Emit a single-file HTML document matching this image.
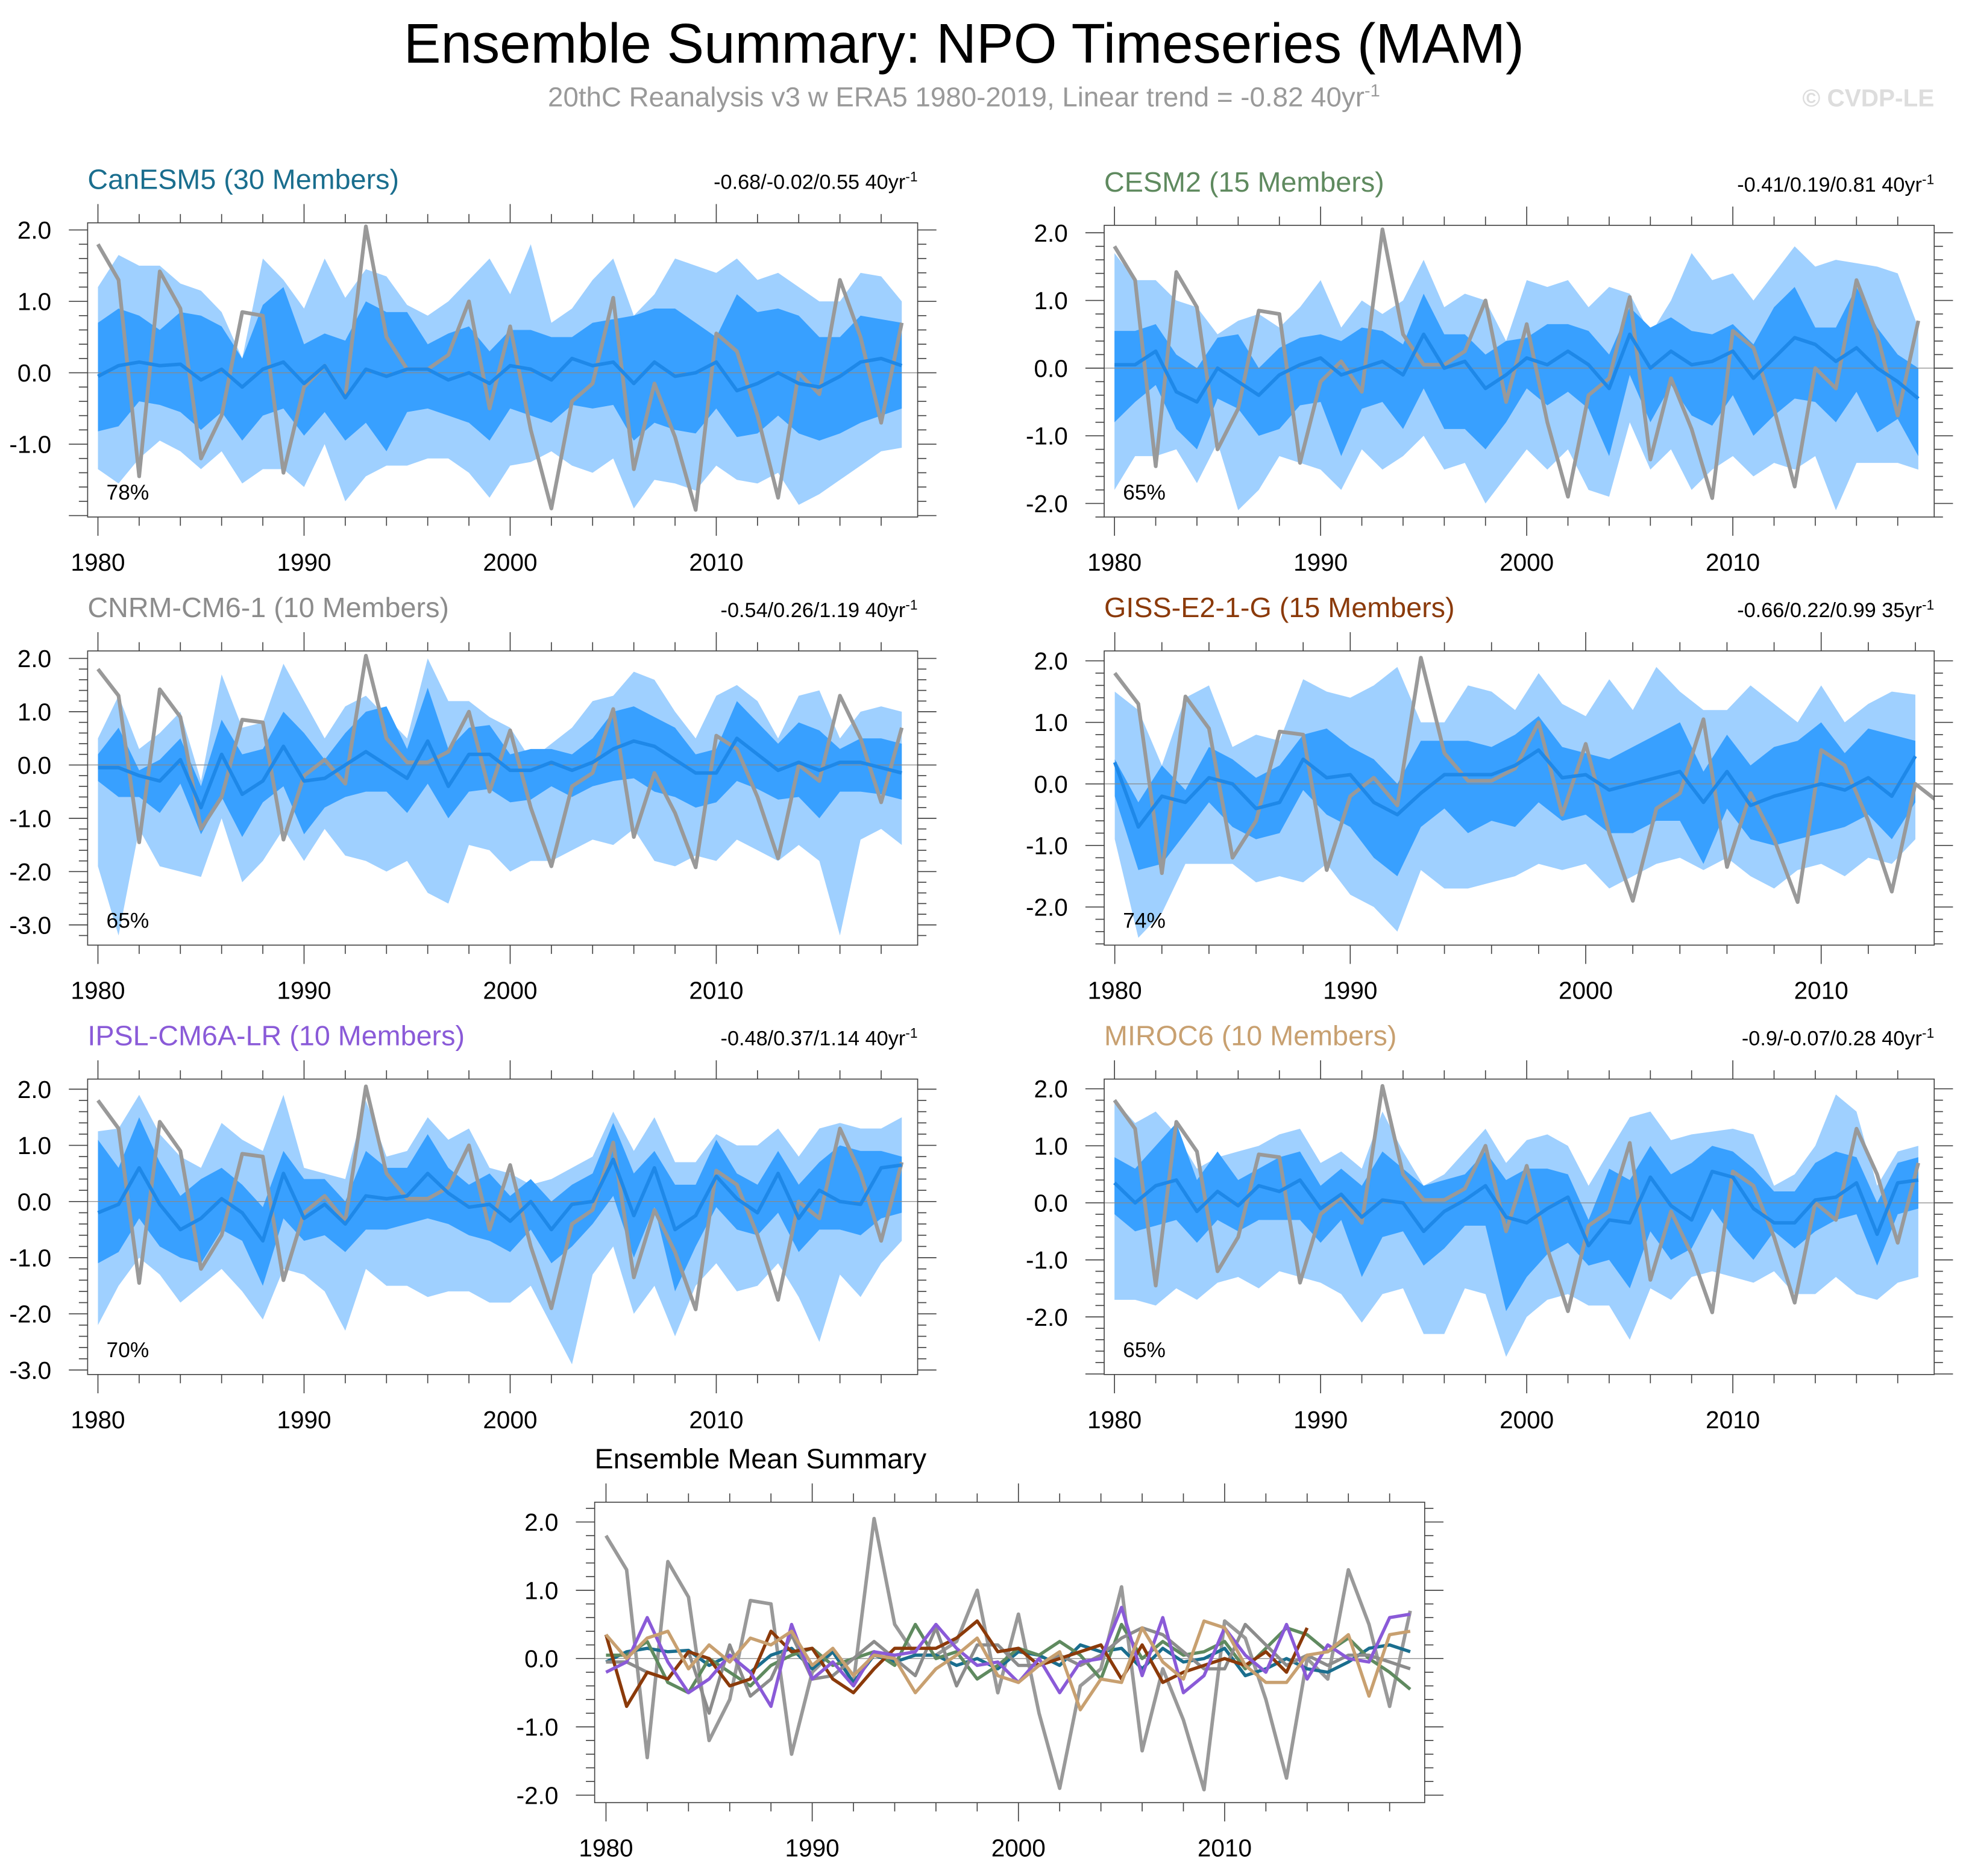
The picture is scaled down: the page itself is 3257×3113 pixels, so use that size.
<!DOCTYPE html>
<html><head><meta charset="utf-8"><style>
html,body{margin:0;padding:0;background:#fff;}
svg{display:block;font-family:"Liberation Sans",Helvetica,sans-serif;}
</style></head><body>
<svg id="fig" width="3257" height="3113" viewBox="0 0 1568 1498.6" preserveAspectRatio="none" xmlns="http://www.w3.org/2000/svg">
<text x="770" y="50" font-size="44.5" text-anchor="middle" fill="#000">Ensemble Summary: NPO Timeseries (MAM)</text>
<text x="770" y="85" font-size="22" text-anchor="middle" fill="#999">20thC Reanalysis v3 w ERA5 1980-2019, Linear trend = -0.82 40yr<tspan dy="-8" font-size="14">-1</tspan></text>
<text x="1545" y="85" font-size="19.5" font-weight="bold" text-anchor="end" fill="#ddd">© CVDP-LE</text>
<g id="panels"></g>
</svg>
<script>
const years = [];
for (let y = 1980; y <= 2019; y++) years.push(y);
const obs = [1.8,1.3,-1.45,1.42,0.9,-1.2,-0.6,0.85,0.8,-1.4,-0.2,0.1,-0.35,2.05,0.5,0.05,0.05,0.25,1.0,-0.5,0.65,-0.8,-1.9,-0.4,-0.15,1.05,-1.35,-0.15,-0.9,-1.92,0.55,0.3,-0.6,-1.75,0.0,-0.3,1.3,0.5,-0.7,0.7];

const canMean=[-0.05,0.1,0.15,0.1,0.12,-0.1,0.05,-0.2,0.05,0.15,-0.15,0.1,-0.35,0.05,-0.05,0.05,0.05,-0.1,0.0,-0.15,0.1,0.05,-0.1,0.2,0.1,0.15,-0.15,0.15,-0.05,0.0,0.15,-0.25,-0.15,0.0,-0.15,-0.2,-0.05,0.15,0.2,0.1];
const canMax=[1.2,1.65,1.5,1.5,1.25,1.15,0.85,0.2,1.6,1.3,0.9,1.6,1.05,1.45,1.35,0.95,0.8,1.0,1.3,1.6,1.1,1.8,0.7,0.9,1.3,1.6,0.8,1.1,1.6,1.5,1.4,1.6,1.3,1.4,1.2,1.0,1.0,1.4,1.35,1.0];
const canHi=[0.7,0.9,0.8,0.6,0.85,0.8,0.65,0.2,0.95,1.2,0.4,0.55,0.45,1.0,0.85,0.85,0.4,0.55,0.65,0.3,0.6,0.6,0.5,0.5,0.7,0.75,0.8,0.9,0.9,0.7,0.5,1.1,0.85,0.9,0.8,0.5,0.5,0.8,0.75,0.7];
const canLo=[-0.82,-0.75,-0.4,-0.45,-0.55,-0.8,-0.55,-0.95,-0.6,-0.5,-0.88,-0.55,-0.95,-0.7,-1.1,-0.55,-0.5,-0.6,-0.7,-0.95,-0.5,-0.6,-0.7,-0.45,-0.5,-0.45,-0.95,-0.7,-0.8,-0.85,-0.5,-0.9,-0.85,-0.6,-0.85,-0.95,-0.85,-0.7,-0.6,-0.5];
const canMin=[-1.35,-1.55,-1.2,-0.95,-1.1,-1.35,-1.1,-1.55,-1.35,-1.35,-1.6,-1.0,-1.8,-1.45,-1.3,-1.3,-1.2,-1.2,-1.4,-1.75,-1.3,-1.25,-1.1,-1.3,-1.4,-1.2,-1.9,-1.5,-1.55,-1.65,-1.3,-1.5,-1.55,-1.4,-1.85,-1.7,-1.5,-1.3,-1.1,-1.05];

const cesMean=[0.05,0.05,0.25,-0.35,-0.5,0.0,-0.2,-0.4,-0.1,0.05,0.15,-0.1,0.0,0.1,-0.1,0.5,0.0,0.1,-0.3,-0.1,0.15,0.05,0.25,0.05,-0.3,0.5,0.0,0.25,0.05,0.1,0.25,-0.15,0.15,0.45,0.35,0.1,0.3,0.0,-0.2,-0.45];
const cesMax=[1.7,1.3,1.3,1.0,0.9,0.5,0.7,0.8,0.6,0.9,1.3,0.6,1.0,0.8,1.0,1.6,0.9,1.1,1.0,0.4,1.3,1.2,1.3,0.9,1.2,1.1,0.5,1.0,1.7,1.3,1.4,1.0,1.4,1.8,1.5,1.6,1.55,1.5,1.4,0.6];
const cesHi=[0.55,0.55,0.65,0.2,0.0,0.45,0.5,0.0,0.3,0.45,0.5,0.4,0.6,0.55,0.35,1.1,0.5,0.5,0.2,0.4,0.45,0.65,0.65,0.55,0.2,0.9,0.6,0.75,0.55,0.5,0.65,0.35,0.9,1.2,0.6,0.6,1.2,0.6,0.2,0.0];
const cesLo=[-0.8,-0.5,-0.25,-0.9,-1.2,-0.45,-0.6,-1.0,-0.9,-0.55,-0.5,-1.3,-0.6,-0.5,-0.9,-0.3,-0.9,-0.9,-1.2,-0.8,-0.3,-0.55,-0.35,-0.6,-1.3,-0.1,-0.8,-0.25,-0.7,-0.85,-0.4,-1.0,-0.7,-0.45,-0.5,-0.8,-0.35,-0.95,-0.75,-1.3];
const cesMin=[-1.8,-1.3,-1.3,-1.2,-1.7,-1.1,-2.1,-1.8,-1.3,-1.4,-1.5,-1.8,-1.2,-1.5,-1.3,-1.0,-1.5,-1.4,-2.0,-1.6,-1.2,-1.5,-1.2,-1.8,-1.9,-0.8,-1.5,-1.2,-1.8,-1.5,-1.3,-1.6,-1.4,-1.5,-1.3,-2.1,-1.4,-1.4,-1.4,-1.5];

const cnrMean=[-0.05,-0.05,-0.2,-0.3,0.1,-0.8,0.2,-0.55,-0.3,0.35,-0.3,-0.25,0.0,0.25,0.0,-0.25,0.45,-0.4,0.2,0.2,-0.1,-0.1,0.05,-0.1,0.05,0.3,0.45,0.35,0.1,-0.15,-0.15,0.5,0.2,-0.1,0.05,-0.1,0.05,0.05,-0.05,-0.15];
const cnrMax=[0.5,1.3,0.3,0.6,1.0,-0.3,1.7,0.7,0.8,1.9,1.2,0.5,1.1,1.3,0.9,0.5,2.0,1.2,1.2,0.9,0.7,0.1,0.4,0.7,1.2,1.3,1.75,1.6,1.0,0.5,1.3,1.5,1.2,0.5,1.3,1.4,0.5,1.0,1.1,1.0];
const cnrHi=[0.2,0.7,-0.1,0.1,0.5,-0.4,0.85,0.2,0.3,1.0,0.6,0.1,0.6,1.0,1.1,0.3,1.45,0.3,0.7,0.75,0.2,0.3,0.3,0.2,0.5,1.0,1.1,0.9,0.7,0.2,0.3,1.2,0.8,0.4,0.8,0.65,0.3,0.5,0.5,0.4];
const cnrLo=[-0.3,-0.6,-0.6,-0.9,-0.35,-1.3,-0.6,-1.35,-0.7,-0.4,-1.3,-0.8,-0.6,-0.5,-0.5,-0.9,-0.35,-1.0,-0.5,-0.45,-0.7,-0.65,-0.4,-0.6,-0.4,-0.3,-0.25,-0.5,-0.6,-0.8,-0.7,-0.3,-0.45,-0.65,-0.6,-1.0,-0.5,-0.5,-0.55,-0.65];
const cnrMin=[-1.9,-3.2,-1.2,-1.9,-2.0,-2.1,-1.0,-2.2,-1.8,-1.2,-1.8,-1.2,-1.7,-1.8,-2.0,-1.8,-2.4,-2.6,-1.5,-1.6,-2.0,-1.8,-1.8,-1.6,-1.4,-1.5,-1.2,-1.8,-1.9,-1.7,-1.8,-1.4,-1.6,-1.8,-1.5,-1.8,-3.2,-1.4,-1.2,-1.5];

const gisMean=[0.35,-0.7,-0.2,-0.3,0.1,0.0,-0.4,-0.3,0.4,0.1,0.15,-0.3,-0.5,-0.15,0.15,0.15,0.15,0.3,0.55,0.1,0.15,-0.1,0.0,0.1,0.2,-0.3,0.2,-0.35,-0.2,-0.1,0.0,-0.1,0.1,-0.2,0.45];
const gisMax=[1.5,1.2,0.3,1.4,1.6,0.6,0.8,0.7,1.7,1.5,1.4,1.6,1.9,1.0,1.0,1.6,1.5,1.2,1.8,1.3,1.1,1.7,1.2,1.9,1.5,1.2,1.2,1.6,1.3,1.0,1.6,1.0,1.3,1.5,1.45];
const gisHi=[0.4,-0.3,0.3,-0.1,0.6,0.4,0.1,0.3,0.8,0.9,0.6,0.4,0.0,0.7,0.7,0.7,0.6,0.8,1.1,0.6,0.5,0.4,0.6,0.8,1.0,0.2,0.8,0.3,0.6,0.7,1.0,0.5,0.9,0.8,0.7];
const gisLo=[-0.2,-1.4,-1.3,-0.8,-0.3,-0.7,-0.9,-0.8,-0.1,-0.5,-0.7,-1.2,-1.5,-0.7,-0.4,-0.8,-0.6,-0.7,-0.3,-0.6,-0.5,-0.8,-0.8,-0.6,-0.6,-1.3,-0.4,-0.9,-1.0,-0.9,-0.8,-0.7,-0.5,-0.9,-0.3];
const gisMin=[-0.9,-2.5,-2.1,-1.3,-1.3,-1.3,-1.6,-1.5,-1.6,-1.3,-1.8,-2.0,-2.4,-1.4,-1.7,-1.7,-1.6,-1.5,-1.3,-1.4,-1.3,-1.7,-1.5,-1.3,-1.2,-1.4,-1.2,-1.5,-1.7,-1.4,-1.3,-1.5,-1.2,-1.3,-0.9];

const ipsMean=[-0.2,-0.05,0.6,-0.05,-0.5,-0.3,0.05,-0.2,-0.7,0.5,-0.3,-0.05,-0.4,0.1,0.05,0.1,0.5,0.15,-0.1,-0.05,-0.35,0.0,-0.5,-0.05,0.0,0.75,-0.25,0.6,-0.5,-0.25,0.45,0.05,-0.2,0.5,-0.3,0.2,0.0,-0.05,0.6,0.65];
const ipsMax=[1.25,1.3,1.9,1.2,0.8,0.6,1.4,1.1,0.9,1.9,0.6,0.5,0.4,1.8,0.8,0.9,1.5,1.1,1.3,0.6,0.5,0.3,0.4,0.6,0.8,1.6,0.9,1.5,0.7,0.7,1.2,1.0,1.0,1.3,0.8,1.3,1.4,1.3,1.3,1.5];
const ipsHi=[1.1,0.6,1.5,0.7,0.1,0.4,0.6,0.3,-0.1,0.9,0.4,0.4,0.0,0.9,0.6,0.6,1.2,0.6,0.3,0.5,0.1,0.4,0.0,0.3,0.5,1.4,0.5,0.9,0.3,0.3,1.1,0.5,0.3,0.9,0.3,0.7,1.0,0.9,0.9,0.8];
const ipsLo=[-1.1,-0.9,-0.3,-0.8,-1.0,-1.1,-0.5,-0.7,-1.5,-0.3,-0.7,-0.6,-0.9,-0.5,-0.5,-0.4,-0.3,-0.4,-0.6,-0.7,-0.9,-0.5,-1.1,-0.8,-0.4,0.1,-1.0,-0.1,-1.6,-0.8,-0.1,-0.5,-0.6,-0.2,-0.9,-0.5,-0.5,-0.6,-0.3,-0.2];
const ipsMin=[-2.2,-1.5,-1.0,-1.3,-1.8,-1.5,-1.2,-1.6,-2.1,-1.2,-1.3,-1.6,-2.3,-1.2,-1.5,-1.5,-1.7,-1.6,-1.6,-1.8,-1.8,-1.5,-2.2,-2.9,-1.3,-0.8,-2.0,-1.5,-2.4,-1.5,-1.1,-1.6,-1.5,-1.1,-1.7,-2.5,-1.3,-1.7,-1.1,-0.7];

const mirMean=[0.35,0.0,0.3,0.4,-0.15,0.2,-0.05,0.3,0.2,0.4,-0.1,0.15,-0.25,0.05,0.0,-0.5,-0.15,0.05,0.3,-0.25,-0.35,-0.1,0.1,-0.75,-0.3,-0.35,0.45,-0.05,-0.3,0.55,0.45,-0.1,-0.35,-0.35,0.05,0.1,0.35,-0.55,0.35,0.4];
const mirMax=[1.8,1.4,1.6,1.2,0.6,0.8,0.9,1.0,1.2,1.3,0.7,0.9,0.6,1.6,0.9,0.3,0.5,0.9,1.3,0.7,1.1,1.2,1.0,0.3,0.9,1.5,1.6,1.1,1.2,1.25,1.3,1.2,0.3,0.5,1.0,1.9,1.6,0.3,0.9,1.0];
const mirHi=[0.8,0.6,1.0,1.4,0.4,0.9,0.4,0.6,0.8,0.9,0.3,0.6,0.3,0.9,0.6,0.3,0.4,0.5,0.9,0.4,0.6,0.6,0.5,-0.3,0.6,0.4,1.0,0.5,0.7,1.0,0.9,0.6,0.2,0.2,0.7,0.9,0.8,0.0,0.7,0.8];
const mirLo=[-0.2,-0.5,-0.4,-0.3,-0.7,-0.3,-0.5,-0.3,-0.3,-0.3,-0.7,-0.3,-1.3,-0.6,-0.5,-1.1,-0.8,-0.4,-0.4,-1.9,-1.3,-0.9,-0.7,-1.1,-1.0,-1.5,-0.5,-1.0,-0.8,-0.1,-0.6,-1.0,-0.5,-0.8,-0.5,-0.3,-0.2,-1.1,-0.2,-0.1];
const mirMin=[-1.7,-1.7,-1.8,-1.5,-1.7,-1.4,-1.3,-1.5,-1.2,-1.3,-1.4,-1.6,-2.1,-1.6,-1.5,-2.3,-2.3,-1.5,-1.6,-2.7,-2.0,-1.7,-1.6,-1.8,-1.8,-2.4,-1.5,-1.7,-1.3,-1.2,-1.3,-1.4,-1.2,-1.6,-1.6,-1.3,-1.6,-1.7,-1.4,-1.3];

const yTicks1=[2.0,1.0,0.0,-1.0];
const yTicks2=[2.0,1.0,0.0,-1.0,-2.0];
const yTicks3=[2.0,1.0,0.0,-1.0,-2.0,-3.0];
const xTicks=[1980,1990,2000,2010];

const NS="http://www.w3.org/2000/svg";
const root=document.getElementById('panels');
function mk(tag,attrs,parent){const e=document.createElementNS(NS,tag);for(const k in attrs)e.setAttribute(k,attrs[k]);(parent||root).appendChild(e);return e;}
let clipId=0;
function panel(cfg){
  const g=mk('g',{});
  
  
  const {x0,x1,y0,y1,xmin,xmax,ymin,ymax}=cfg;
  const sx=v=>x0+(v-xmin)/(xmax-xmin)*(x1-x0);
  const sy=v=>y1-(v-ymin)/(ymax-ymin)*(y1-y0);
  const cid='c'+(clipId++);
  const cp=mk('clipPath',{id:cid},g);mk('rect',{x:x0,y:y0,width:x1-x0,height:y1-y0},cp);
  const pg=mk('g',{'clip-path':'url(#'+cid+')'},g);
  const yrs=cfg.years;
  function band(top,bot,fill,nm){
    let d='';
    top.forEach((v,i)=>{d+=(i?'L':'M')+sx(yrs[i]).toFixed(2)+' '+sy(v).toFixed(2);});
    for(let i=bot.length-1;i>=0;i--)d+='L'+sx(yrs[i]).toFixed(2)+' '+sy(bot[i]).toFixed(2);
    const p=mk('path',{d:d+'Z',fill:fill},pg);
    
    
  }
  function line(vals,xs,col,w,nm){
    const d=vals.map((v,i)=>(i?'L':'M')+sx(xs[i]).toFixed(2)+' '+sy(v).toFixed(2)).join('');
    const p=mk('path',{d:d,fill:'none',stroke:col,'stroke-width':w,'stroke-linejoin':'round'},pg);
    
    
  }
  if(cfg.max){
    band(cfg.max,cfg.min,'#9fd0ff','ensemble-range-band');
    band(cfg.hi,cfg.lo,'#38a0ff','ensemble-spread-band');
  }
  const z=mk('line',{x1:x0,x2:x1,y1:sy(0),y2:sy(0),stroke:'#888','stroke-width':0.6},pg);
  
  
  if(cfg.max){
    line(obs,years,'#999',3,'observed-line');
    line(cfg.mean,yrs,'#1e88e8',2.8,'ensemble-mean-line');
  } else {
    line(obs,years,'#999',2.8,'observed-line');
    cfg.series.forEach(s=>line(s.v,s.x,s.c,2.6,s.n+'-mean-line'));
  }
  const box=mk('rect',{x:x0,y:y0,width:x1-x0,height:y1-y0,fill:'none',stroke:'#444','stroke-width':0.8},g);
  
  
  for(let yr=1980;yr<=cfg.xlast;yr+=2){
    const X=sx(yr);const L=(yr%10===0)?15:7;
    mk('line',{x1:X,x2:X,y1:y1,y2:y1+L,stroke:'#444','stroke-width':0.8},g);
    mk('line',{x1:X,x2:X,y1:y0,y2:y0-L,stroke:'#444','stroke-width':0.8},g);
  }
  xTicks.forEach(t=>{const tx=mk('text',{x:sx(t),y:y1+43,'font-size':19.5,'text-anchor':'middle'},g);tx.textContent=String(t);
    
    });
  const lo=Math.ceil(ymin*5),hi=Math.floor(ymax*5);
  for(let k=lo;k<=hi;k++){
    const Y=sy(k/5);const L=(k%5===0)?15:7;
    mk('line',{x1:x0,x2:x0-L,y1:Y,y2:Y,stroke:'#444','stroke-width':0.8},g);
    mk('line',{x1:x1,x2:x1+L,y1:Y,y2:Y,stroke:'#444','stroke-width':0.8},g);
  }
  cfg.yticks.forEach(t=>{const tx=mk('text',{x:x0-29,y:sy(t)+7,'font-size':19.5,'text-anchor':'end'},g);tx.textContent=t.toFixed(1);
    
    });
  const tt=mk('text',{x:x0,y:y0-27,'font-size':22.5,fill:cfg.color},g);tt.textContent=cfg.title;
  
  
  if(cfg.trend){
    const tr=mk('text',{x:x1,y:y0-27,'font-size':16.5,'text-anchor':'end'},g);
    tr.textContent=cfg.trend;
    const sp=mk('tspan',{dy:-6,'font-size':11},tr);sp.textContent='-1';
    
    
  }
  if(cfg.pct){
    const pc=mk('text',{x:x0+15,y:y1-14,'font-size':17},g);pc.textContent=cfg.pct;
    
    
  }
}
const gyears=years.slice(0,35);
panel({name:'canesm5',title:'CanESM5 (30 Members)',color:'#1a6e8e',trend:'-0.68/-0.02/0.55 40yr',pct:'78%',x0:70,x1:733,y0:178,y1:413,xmin:1979.5,xmax:2019.77,xlast:2019,ymin:-2.02,ymax:2.1,yticks:yTicks1,years:years,mean:canMean,max:canMax,hi:canHi,lo:canLo,min:canMin});
panel({name:'cesm2',title:'CESM2 (15 Members)',color:'#5f8a5f',trend:'-0.41/0.19/0.81 40yr',pct:'65%',x0:882,x1:1545,y0:180,y1:413,xmin:1979.5,xmax:2019.77,xlast:2019,ymin:-2.2,ymax:2.11,yticks:yTicks2,years:years,mean:cesMean,max:cesMax,hi:cesHi,lo:cesLo,min:cesMin});
panel({name:'cnrm-cm6-1',title:'CNRM-CM6-1 (10 Members)',color:'#8c8c8c',trend:'-0.54/0.26/1.19 40yr',pct:'65%',x0:70,x1:733,y0:520,y1:755,xmin:1979.5,xmax:2019.77,xlast:2019,ymin:-3.38,ymax:2.14,yticks:yTicks3,years:years,mean:cnrMean,max:cnrMax,hi:cnrHi,lo:cnrLo,min:cnrMin});
panel({name:'giss-e2-1-g',title:'GISS-E2-1-G (15 Members)',color:'#8b3a0a',trend:'-0.66/0.22/0.99 35yr',pct:'74%',x0:882,x1:1545,y0:520,y1:755,xmin:1979.55,xmax:2014.8,xlast:2014,ymin:-2.62,ymax:2.16,yticks:yTicks2,years:gyears,mean:gisMean,max:gisMax,hi:gisHi,lo:gisLo,min:gisMin});
panel({name:'ipsl-cm6a-lr',title:'IPSL-CM6A-LR (10 Members)',color:'#8a5ad8',trend:'-0.48/0.37/1.14 40yr',pct:'70%',x0:70,x1:733,y0:862,y1:1098,xmin:1979.5,xmax:2019.77,xlast:2019,ymin:-3.08,ymax:2.18,yticks:yTicks3,years:years,mean:ipsMean,max:ipsMax,hi:ipsHi,lo:ipsLo,min:ipsMin});
panel({name:'miroc6',title:'MIROC6 (10 Members)',color:'#c8a070',trend:'-0.9/-0.07/0.28 40yr',pct:'65%',x0:882,x1:1545,y0:862,y1:1098,xmin:1979.5,xmax:2019.77,xlast:2019,ymin:-3.01,ymax:2.17,yticks:yTicks2,years:years,mean:mirMean,max:mirMax,hi:mirHi,lo:mirLo,min:mirMin});
panel({name:'ensemble-mean-summary',title:'Ensemble Mean Summary',color:'#000',x0:475,x1:1138,y0:1200,y1:1440,xmin:1979.45,xmax:2019.7,xlast:2019,ymin:-2.11,ymax:2.29,yticks:yTicks2,
  series:[{n:'canesm5',v:canMean,x:years,c:'#1a6e8e'},{n:'cesm2',v:cesMean,x:years,c:'#5f8a5f'},{n:'cnrm',v:cnrMean,x:years,c:'#8c8c8c'},{n:'giss',v:gisMean,x:gyears,c:'#8b3a0a'},{n:'ipsl',v:ipsMean,x:years,c:'#8a5ad8'},{n:'miroc6',v:mirMean,x:years,c:'#c8a070'}]});
</script>
</body></html>
